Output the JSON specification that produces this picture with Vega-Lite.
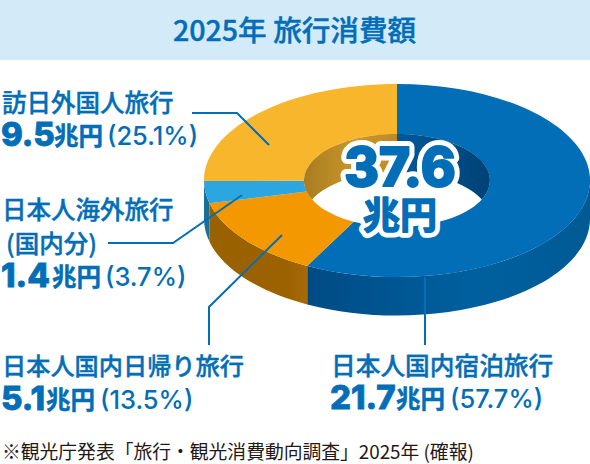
{"$schema":"https://vega.github.io/schema/vega-lite/v6.json","width":590,"height":464,"padding":0,"autosize":"none","background":"#ffffff","config":{"view":{"stroke":null},"axis":{"disable":true},"legend":{"disable":true}},
"datasets":{"segments":[
{"name":"日本人国内宿泊旅行","amount":21.7,"unit":"兆円","share":57.7,"shareText":"(57.7%)"},
{"name":"日本人国内日帰り旅行","amount":5.1,"unit":"兆円","share":13.5,"shareText":"(13.5%)"},
{"name":"日本人海外旅行","note":"(国内分)","amount":1.4,"unit":"兆円","share":3.7,"shareText":"(3.7%)"},
{"name":"訪日外国人旅行","amount":9.5,"unit":"兆円","share":25.1,"shareText":"(25.1%)"}],
"leaders":[
{"leader":"訪日外国人旅行","step":1,"h":192,"v":113},{"leader":"訪日外国人旅行","step":2,"h":237,"v":113},{"leader":"訪日外国人旅行","step":3,"h":269,"v":145},
{"leader":"日本人海外旅行","step":1,"h":108,"v":243},{"leader":"日本人海外旅行","step":2,"h":173,"v":243},{"leader":"日本人海外旅行","step":3,"h":242,"v":195},
{"leader":"日本人国内日帰り旅行","step":1,"h":209,"v":345},{"leader":"日本人国内日帰り旅行","step":2,"h":209,"v":307},{"leader":"日本人国内日帰り旅行","step":3,"h":282,"v":235},
{"leader":"日本人国内宿泊旅行","step":1,"h":425,"v":277},{"leader":"日本人国内宿泊旅行","step":2,"h":425,"v":345}],
"total":[{"total":37.6,"unit":"兆円","title":"2025年 旅行消費額","source":"※観光庁発表「旅行・観光消費動向調査」2025年 (確報)"}]},
"data":{"name":"segments"},
"layer":[
{"data":{"name":"total"},"mark":{"type":"rect","fill":"#D3EBF9"},"encoding":{"x":{"datum":0,"type":"quantitative","scale":{"domain":[0,590],"nice":false,"zero":false}},"x2":{"datum":590},"y":{"datum":0,"type":"quantitative","scale":{"domain":[0,464],"reverse":true,"nice":false,"zero":false}},"y2":{"datum":60}}},
{"transform":[{"filter":"datum.name==='日本人国内宿泊旅行'"}],"mark":{"type":"point","filled":true,"size":4,"opacity":1,"strokeWidth":0,"fill":{"gradient":"linear","x1":0,"y1":0,"x2":1,"y2":0,"stops":[{"offset":0,"color":"#004B85"},{"offset":0.6,"color":"#00609F"},{"offset":1,"color":"#005A94"}]}},"encoding":{"x":{"datum":397},"y":{"datum":180.5},"shape":{"value":"M193,0 A193,96.5 0 0 1 -89.8,85.4 L-89.8,123.9 A193,96.5 0 0 0 193,38.5 Z"}}},
{"transform":[{"filter":"datum.name==='日本人国内日帰り旅行'"}],"mark":{"type":"point","filled":true,"size":4,"opacity":1,"strokeWidth":0,"fill":{"gradient":"linear","x1":0,"y1":0,"x2":1,"y2":0,"stops":[{"offset":0,"color":"#9A6100"},{"offset":0.8,"color":"#9C6200"},{"offset":1,"color":"#A8690A"}]}},"encoding":{"x":{"datum":397},"y":{"datum":180.5},"shape":{"value":"M-89.8,85.4 A193,96.5 0 0 1 -187.5,22.8 L-187.5,61.3 A193,96.5 0 0 0 -89.8,123.9 Z"}}},
{"transform":[{"filter":"datum.name==='日本人海外旅行'"}],"mark":{"type":"point","filled":true,"size":4,"opacity":1,"strokeWidth":0,"fill":"#186F9A"},"encoding":{"x":{"datum":397},"y":{"datum":180.5},"shape":{"value":"M-187.5,22.8 A193,96.5 0 0 1 -193,0.6 L-193,39.1 A193,96.5 0 0 0 -187.5,61.3 Z"}}},
{"mark":{"type":"point","filled":true,"size":4,"opacity":1,"strokeWidth":0},"encoding":{"x":{"datum":397},"y":{"datum":180.5},
"shape":{"field":"name","type":"nominal","scale":{"domain":["日本人国内宿泊旅行","日本人国内日帰り旅行","日本人海外旅行","訪日外国人旅行"],"range":["M0,-96.5 A193,96.5 0 1 1 -89.8,85.4 L-43.3,41.2 A93,46.5 0 1 0 0,-46.5 Z","M-89.8,85.4 A193,96.5 0 0 1 -187.5,22.8 L-90.4,11 A93,46.5 0 0 0 -43.3,41.2 Z","M-187.5,22.8 A193,96.5 0 0 1 -193,0.6 L-93,0.3 A93,46.5 0 0 0 -90.4,11 Z","M-193,0.6 A193,96.5 0 0 1 0,-96.5 L0,-46.5 A93,46.5 0 0 0 -93,0.3 Z"]}},
"color":{"field":"name","type":"nominal","scale":{"domain":["日本人国内宿泊旅行","日本人国内日帰り旅行","日本人海外旅行","訪日外国人旅行"],"range":["#036EB8","#F39800","#2CA6E0","#F8B62D"]}}}},
{"transform":[{"filter":"datum.name==='訪日外国人旅行'"}],"mark":{"type":"point","filled":true,"size":4,"opacity":1,"strokeWidth":0,"fill":{"gradient":"linear","x1":0,"y1":0,"x2":1,"y2":0,"stops":[{"offset":0,"color":"#A87C20"},{"offset":0.55,"color":"#C9962B"},{"offset":1,"color":"#BE8A26"}]}},"encoding":{"x":{"datum":397},"y":{"datum":180.5},"shape":{"value":"M0,-46.5 A93,46.5 0 0 0 -84.9,19 A93,46.5 0 0 1 0,-8.5 Z"}}},
{"transform":[{"filter":"datum.name==='日本人国内宿泊旅行'"}],"mark":{"type":"point","filled":true,"size":4,"opacity":1,"strokeWidth":0,"fill":{"gradient":"linear","x1":0,"y1":0,"x2":1,"y2":0,"stops":[{"offset":0,"color":"#00589A"},{"offset":1,"color":"#004276"}]}},"encoding":{"x":{"datum":397},"y":{"datum":180.5},"shape":{"value":"M0,-46.5 A93,46.5 0 0 1 84.9,19 A93,46.5 0 0 0 0,-8.5 Z"}}},
{"data":{"name":"leaders"},"mark":{"type":"line","color":"#036EB8","strokeWidth":2,"strokeJoin":"miter"},"encoding":{"x":{"field":"h","type":"quantitative"},"y":{"field":"v","type":"quantitative"},"detail":{"field":"leader"},"order":{"field":"step","type":"ordinal"}}},
{"data":{"name":"total"},"mark":{"type":"text","align":"center","baseline":"alphabetic","font":"Noto Sans CJK JP","fontSize":28.6,"fontWeight":500,"color":"#036EB8","stroke":"#036EB8","strokeWidth":0.4},"encoding":{"x":{"datum":294.5},"y":{"datum":41},"text":{"field":"title"}}},
{"data":{"name":"total"},"mark":{"type":"text","align":"left","baseline":"alphabetic","font":"Noto Sans CJK JP","fontSize":18.8,"fontWeight":400,"color":"#231815"},"encoding":{"x":{"datum":2},"y":{"datum":459},"text":{"field":"source"}}},
{"data":{"name":"total"},"mark":{"type":"text","align":"center","baseline":"alphabetic","font":"Inter","fontSize":53,"fontWeight":800,"color":"#ffffff","stroke":"#ffffff","strokeWidth":12,"strokeJoin":"round"},"encoding":{"x":{"datum":400},"y":{"datum":186},"text":{"field":"total","type":"quantitative","format":".1f"}}},
{"data":{"name":"total"},"mark":{"type":"text","align":"center","baseline":"alphabetic","font":"Noto Sans CJK JP","fontSize":37,"fontWeight":700,"color":"#ffffff","stroke":"#ffffff","strokeWidth":11,"strokeJoin":"round"},"encoding":{"x":{"datum":400},"y":{"datum":229},"text":{"field":"unit"}}},
{"data":{"name":"total"},"mark":{"type":"text","align":"center","baseline":"alphabetic","font":"Inter","fontSize":53,"fontWeight":800,"color":"#036EB8","stroke":"#036EB8","strokeWidth":2,"strokeJoin":"round"},"encoding":{"x":{"datum":400},"y":{"datum":186},"text":{"field":"total","type":"quantitative","format":".1f"}}},
{"data":{"name":"total"},"mark":{"type":"text","align":"center","baseline":"alphabetic","font":"Noto Sans CJK JP","fontSize":37,"fontWeight":700,"color":"#036EB8","stroke":"#036EB8","strokeWidth":1.5,"strokeJoin":"round"},"encoding":{"x":{"datum":400},"y":{"datum":229},"text":{"field":"unit"}}},

{"transform":[{"filter":"datum.name==='訪日外国人旅行'"}],"mark":{"type":"text","align":"left","baseline":"alphabetic","font":"Noto Sans CJK JP","fontSize":24.5,"fontWeight":500,"color":"#036EB8","stroke":"#036EB8","strokeWidth":0.4},"encoding":{"x":{"datum":2},"y":{"datum":112},"text":{"field":"name"}}},
{"transform":[{"filter":"datum.name==='訪日外国人旅行'"}],"mark":{"type":"text","align":"left","baseline":"alphabetic","font":"Inter","fontSize":33,"fontWeight":800,"color":"#036EB8","stroke":"#036EB8","strokeWidth":0.8},"encoding":{"x":{"datum":1},"y":{"datum":146},"text":{"field":"amount","type":"quantitative","format":".1f"}}},
{"transform":[{"filter":"datum.name==='訪日外国人旅行'"}],"mark":{"type":"text","align":"left","baseline":"alphabetic","font":"Noto Sans CJK JP","fontSize":24.5,"fontWeight":700,"color":"#036EB8","stroke":"#036EB8","strokeWidth":0.5},"encoding":{"x":{"datum":54},"y":{"datum":145},"text":{"field":"unit"}}},
{"transform":[{"filter":"datum.name==='訪日外国人旅行'"}],"mark":{"type":"text","align":"left","baseline":"alphabetic","font":"Inter","fontSize":25.5,"fontWeight":500,"color":"#036EB8"},"encoding":{"x":{"datum":107},"y":{"datum":145},"text":{"field":"shareText"}}},

{"transform":[{"filter":"datum.name==='日本人海外旅行'"}],"mark":{"type":"text","align":"left","baseline":"alphabetic","font":"Noto Sans CJK JP","fontSize":24.5,"fontWeight":500,"color":"#036EB8","stroke":"#036EB8","strokeWidth":0.4},"encoding":{"x":{"datum":2},"y":{"datum":219},"text":{"field":"name"}}},
{"transform":[{"filter":"datum.name==='日本人海外旅行'"}],"mark":{"type":"text","align":"left","baseline":"alphabetic","font":"Noto Sans CJK JP","fontSize":24.5,"fontWeight":500,"color":"#036EB8","stroke":"#036EB8","strokeWidth":0.4},"encoding":{"x":{"datum":6},"y":{"datum":253},"text":{"field":"note"}}},
{"transform":[{"filter":"datum.name==='日本人海外旅行'"}],"mark":{"type":"text","align":"left","baseline":"alphabetic","font":"Inter","fontSize":33,"fontWeight":800,"color":"#036EB8","stroke":"#036EB8","strokeWidth":0.8},"encoding":{"x":{"datum":1},"y":{"datum":287},"text":{"field":"amount","type":"quantitative","format":".1f"}}},
{"transform":[{"filter":"datum.name==='日本人海外旅行'"}],"mark":{"type":"text","align":"left","baseline":"alphabetic","font":"Noto Sans CJK JP","fontSize":24.5,"fontWeight":700,"color":"#036EB8","stroke":"#036EB8","strokeWidth":0.5},"encoding":{"x":{"datum":52},"y":{"datum":286},"text":{"field":"unit"}}},
{"transform":[{"filter":"datum.name==='日本人海外旅行'"}],"mark":{"type":"text","align":"left","baseline":"alphabetic","font":"Inter","fontSize":25.5,"fontWeight":500,"color":"#036EB8"},"encoding":{"x":{"datum":105},"y":{"datum":286},"text":{"field":"shareText"}}},

{"transform":[{"filter":"datum.name==='日本人国内日帰り旅行'"}],"mark":{"type":"text","align":"left","baseline":"alphabetic","font":"Noto Sans CJK JP","fontSize":24.2,"fontWeight":500,"color":"#036EB8","stroke":"#036EB8","strokeWidth":0.4},"encoding":{"x":{"datum":2},"y":{"datum":375},"text":{"field":"name"}}},
{"transform":[{"filter":"datum.name==='日本人国内日帰り旅行'"}],"mark":{"type":"text","align":"left","baseline":"alphabetic","font":"Inter","fontSize":33,"fontWeight":800,"color":"#036EB8","stroke":"#036EB8","strokeWidth":0.8},"encoding":{"x":{"datum":1},"y":{"datum":410},"text":{"field":"amount","type":"quantitative","format":".1f"}}},
{"transform":[{"filter":"datum.name==='日本人国内日帰り旅行'"}],"mark":{"type":"text","align":"left","baseline":"alphabetic","font":"Noto Sans CJK JP","fontSize":24.5,"fontWeight":700,"color":"#036EB8","stroke":"#036EB8","strokeWidth":0.5},"encoding":{"x":{"datum":46},"y":{"datum":409},"text":{"field":"unit"}}},
{"transform":[{"filter":"datum.name==='日本人国内日帰り旅行'"}],"mark":{"type":"text","align":"left","baseline":"alphabetic","font":"Inter","fontSize":25.5,"fontWeight":500,"color":"#036EB8"},"encoding":{"x":{"datum":100},"y":{"datum":409},"text":{"field":"shareText"}}},

{"transform":[{"filter":"datum.name==='日本人国内宿泊旅行'"}],"mark":{"type":"text","align":"left","baseline":"alphabetic","font":"Noto Sans CJK JP","fontSize":24.7,"fontWeight":500,"color":"#036EB8","stroke":"#036EB8","strokeWidth":0.4},"encoding":{"x":{"datum":331},"y":{"datum":375},"text":{"field":"name"}}},
{"transform":[{"filter":"datum.name==='日本人国内宿泊旅行'"}],"mark":{"type":"text","align":"left","baseline":"alphabetic","font":"Inter","fontSize":33,"fontWeight":800,"color":"#036EB8","stroke":"#036EB8","strokeWidth":0.8},"encoding":{"x":{"datum":330},"y":{"datum":409},"text":{"field":"amount","type":"quantitative","format":".1f"}}},
{"transform":[{"filter":"datum.name==='日本人国内宿泊旅行'"}],"mark":{"type":"text","align":"left","baseline":"alphabetic","font":"Noto Sans CJK JP","fontSize":24.5,"fontWeight":700,"color":"#036EB8","stroke":"#036EB8","strokeWidth":0.5},"encoding":{"x":{"datum":396},"y":{"datum":408},"text":{"field":"unit"}}},
{"transform":[{"filter":"datum.name==='日本人国内宿泊旅行'"}],"mark":{"type":"text","align":"left","baseline":"alphabetic","font":"Inter","fontSize":25.5,"fontWeight":500,"color":"#036EB8"},"encoding":{"x":{"datum":450},"y":{"datum":408},"text":{"field":"shareText"}}}
]}
